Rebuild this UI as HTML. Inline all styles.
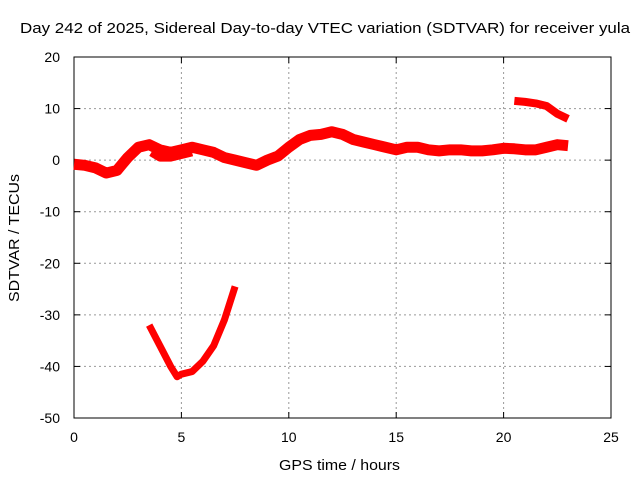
<!DOCTYPE html>
<html><head><meta charset="utf-8"><style>
body{margin:0;background:#fff}
svg text{font-family:"Liberation Sans",sans-serif;font-size:14px;fill:#000}
</style></head><body>
<svg id="c" width="640" height="480"></svg>
<script>
const xTicks=[0,5,10,15,20,25];
const yTicks=[20,10,0,-10,-20,-30,-40,-50];
const mainHours=[0,0.5,1,1.5,2,2.5,3,3.5,4,4.5,5,5.5,6,6.5,7,7.5,8,8.5,9,9.5,10,10.5,11,11.5,12,12.5,13,13.5,14,14.5,15,15.5,16,16.5,17,17.5,18,18.5,19,19.5,20,20.5,21,21.5,22,22.5,23];
const mainVals=[-0.8,-1,-1.5,-2.5,-2,0.5,2.5,3,2,1.5,2,2.5,2,1.5,0.5,0,-0.5,-1,0,0.8,2.5,4,4.8,5,5.5,5,4,3.5,3,2.5,2,2.5,2.5,2,1.8,2,2,1.8,1.8,2,2.3,2.2,2,2,2.5,3,2.8];
const branchHours=[3.6,4,4.5,5,5.5];
const branchVals=[1.5,0.5,0.5,1,1.5];
const highHours=[20.5,21,21.5,22,22.5,23];
const highVals=[11.5,11.3,11,10.5,9,8];
const lowHours=[3.5,4,4.5,4.8,5,5.5,6,6.5,7,7.5];
const lowVals=[-32,-36,-40,-42,-41.5,-41,-39,-36,-31,-24.5];
const L=74,R=611,T=57,B=418;
const X=h=>L+(h-0)/25*(R-L);
const Y=v=>T+(20-v)/70*(B-T);
const s=document.getElementById('c');const NS='http://www.w3.org/2000/svg';
function el(t,a,p){const e=document.createElementNS(NS,t);for(const k in a)e.setAttribute(k,a[k]);(p||s).appendChild(e);return e;}
const grid=el('g',{});


xTicks.slice(1,-1).forEach(t=>el('line',{x1:X(t),x2:X(t),y1:T,y2:B,stroke:'#999','stroke-dasharray':'2,3'},grid));
yTicks.slice(1,-1).forEach(t=>el('line',{x1:L,x2:R,y1:Y(t),y2:Y(t),stroke:'#999','stroke-dasharray':'2,3'},grid));
const fr=el('rect',{x:L,y:T,width:R-L,height:B-T,fill:'none',stroke:'#000'});


xTicks.forEach(t=>{el('line',{x1:X(t),x2:X(t),y1:B,y2:B-6,stroke:'#000'});el('line',{x1:X(t),x2:X(t),y1:T,y2:T+6,stroke:'#000'});
const tx=el('text',{x:X(t),y:B+24,'text-anchor':'middle'});tx.textContent=t;

});
yTicks.forEach(t=>{el('line',{x1:L,x2:L+6,y1:Y(t),y2:Y(t),stroke:'#000'});el('line',{x1:R,x2:R-6,y1:Y(t),y2:Y(t),stroke:'#000'});
const tx=el('text',{x:L-14,y:Y(t)+5,'text-anchor':'end'});tx.textContent=t;

});
function line(hs,vs,w,name){const p=el('polyline',{points:hs.map((h,i)=>X(h)+','+Y(vs[i])).join(' '),fill:'none',stroke:'#f00','stroke-width':w,'stroke-linejoin':'round'});

}
line(mainHours,mainVals,11,'series-main');
line(branchHours,branchVals,8,'series-branch');
line(highHours,highVals,8,'series-high');
line(lowHours,lowVals,7,'series-low');
const ti=el('text',{x:20,y:33,textLength:610,lengthAdjust:'spacingAndGlyphs',style:'font-size:15px'});ti.textContent='Day 242 of 2025, Sidereal Day-to-day VTEC variation (SDTVAR) for receiver yula';


const xl=el('text',{x:279,y:470,textLength:121,lengthAdjust:'spacingAndGlyphs',style:'font-size:15px'});xl.textContent='GPS time / hours';


const yl=el('text',{x:0,y:0,textLength:128,lengthAdjust:'spacingAndGlyphs',transform:'translate(19 302) rotate(-90)',style:'font-size:15px'});yl.textContent='SDTVAR / TECUs';


</script>
</body></html>
